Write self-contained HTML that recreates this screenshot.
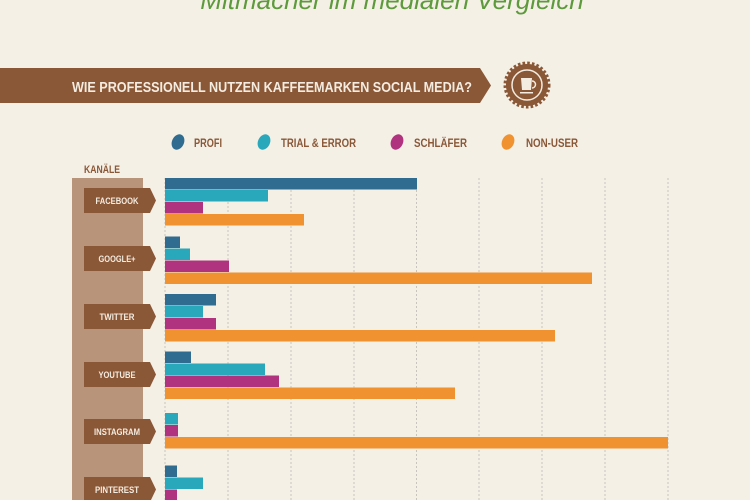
<!DOCTYPE html>
<html><head><meta charset="utf-8"><style>
html,body{margin:0;padding:0;background:#f4f0e6;width:750px;height:500px;overflow:hidden}
svg{display:block}
text{font-family:"Liberation Sans",sans-serif}
</style></head><body>
<svg width="750" height="500" viewBox="0 0 750 500">
<rect width="750" height="500" fill="#f4f0e6"/>
<text x="392" y="9" text-anchor="middle" font-size="26" font-style="italic" fill="#5d9a3c">Mitmacher im medialen Vergleich</text>
<polygon points="0,68 480,68 491,85.5 480,103 0,103" fill="#8a5737"/>
<text x="72" y="92" font-size="15" font-weight="bold" fill="#f4ece0" textLength="400" lengthAdjust="spacingAndGlyphs">WIE PROFESSIONELL NUTZEN KAFFEEMARKEN SOCIAL MEDIA?</text>
<g transform="translate(527,85)">
<circle r="21" fill="#8a5737" stroke="#8a5737" stroke-width="5" stroke-dasharray="2.5 2"/>
<circle r="21" fill="#8a5737"/>
<circle r="15" fill="none" stroke="#f4ece0" stroke-width="1.5"/>
<path d="M-6,-7 L5,-7 L4,5 L-5,5 Z" fill="#f4ece0"/>
<path d="M5,-4 a3.5,3.5 0 0 1 0,7" fill="none" stroke="#f4ece0" stroke-width="1.5"/>
<rect x="-7" y="7" width="13" height="1.5" fill="#f4ece0"/>
</g>
<g font-size="12" font-weight="bold" fill="#8a5737">
<ellipse cx="178" cy="142" rx="6" ry="8" transform="rotate(25 178 142)" fill="#2f6c8f"/><text x="194" y="147" textLength="28" lengthAdjust="spacingAndGlyphs">PROFI</text>
<ellipse cx="264" cy="142" rx="6" ry="8" transform="rotate(25 264 142)" fill="#2aa8bb"/><text x="281" y="147" textLength="75" lengthAdjust="spacingAndGlyphs">TRIAL &amp; ERROR</text>
<ellipse cx="397" cy="142" rx="6" ry="8" transform="rotate(25 397 142)" fill="#b0337f"/><text x="414" y="147" textLength="53" lengthAdjust="spacingAndGlyphs">SCHLÄFER</text>
<ellipse cx="508" cy="142" rx="6" ry="8" transform="rotate(25 508 142)" fill="#f0922f"/><text x="526" y="147" textLength="52" lengthAdjust="spacingAndGlyphs">NON-USER</text>
</g>
<text x="84" y="173" font-size="11" font-weight="bold" fill="#8a5737" textLength="36" lengthAdjust="spacingAndGlyphs">KANÄLE</text>
<rect x="72" y="178" width="71" height="322" fill="#b8947a"/>
<g stroke="#c8c4bc" stroke-width="1" stroke-dasharray="2 2">
<line x1="165" y1="178" x2="165" y2="500"/><line x1="228" y1="178" x2="228" y2="500"/><line x1="291" y1="178" x2="291" y2="500"/><line x1="354" y1="178" x2="354" y2="500"/><line x1="416.5" y1="178" x2="416.5" y2="500"/><line x1="479" y1="178" x2="479" y2="500"/><line x1="542" y1="178" x2="542" y2="500"/><line x1="605" y1="178" x2="605" y2="500"/><line x1="668" y1="178" x2="668" y2="500"/>
</g>
<g>
<rect x="165" y="178" width="252" height="11.5" fill="#2f6c8f"/><rect x="165" y="190" width="103" height="11.5" fill="#2aa8bb"/><rect x="165" y="202" width="38" height="11.5" fill="#b0337f"/><rect x="165" y="214" width="139" height="11.5" fill="#f0922f"/>
<rect x="165" y="236.5" width="15" height="11.5" fill="#2f6c8f"/><rect x="165" y="248.5" width="25" height="11.5" fill="#2aa8bb"/><rect x="165" y="260.5" width="64" height="11.5" fill="#b0337f"/><rect x="165" y="272.5" width="427" height="11.5" fill="#f0922f"/>
<rect x="165" y="294" width="51" height="11.5" fill="#2f6c8f"/><rect x="165" y="306" width="38" height="11.5" fill="#2aa8bb"/><rect x="165" y="318" width="51" height="11.5" fill="#b0337f"/><rect x="165" y="330" width="390" height="11.5" fill="#f0922f"/>
<rect x="165" y="351.5" width="26" height="11.5" fill="#2f6c8f"/><rect x="165" y="363.5" width="100" height="11.5" fill="#2aa8bb"/><rect x="165" y="375.5" width="114" height="11.5" fill="#b0337f"/><rect x="165" y="387.5" width="290" height="11.5" fill="#f0922f"/>
<rect x="165" y="413" width="13" height="11.5" fill="#2aa8bb"/><rect x="165" y="425" width="13" height="11.5" fill="#b0337f"/><rect x="165" y="437" width="503" height="11.5" fill="#f0922f"/>
<rect x="165" y="465.5" width="12" height="11.5" fill="#2f6c8f"/><rect x="165" y="477.5" width="38" height="11.5" fill="#2aa8bb"/><rect x="165" y="489.5" width="12" height="11.5" fill="#b0337f"/>
</g>
<g font-size="9" font-weight="bold" fill="#f4ece0" text-anchor="middle" lengthAdjust="spacingAndGlyphs">
<polygon points="84,188 150,188 156,200.5 150,213 84,213" fill="#8a5737"/><text x="117" y="204" textLength="43" lengthAdjust="spacingAndGlyphs">FACEBOOK</text>
<polygon points="84,246 150,246 156,258.5 150,271 84,271" fill="#8a5737"/><text x="117" y="262" textLength="37" lengthAdjust="spacingAndGlyphs">GOOGLE+</text>
<polygon points="84,304 150,304 156,316.5 150,329 84,329" fill="#8a5737"/><text x="117" y="320" textLength="35" lengthAdjust="spacingAndGlyphs">TWITTER</text>
<polygon points="84,362 150,362 156,374.5 150,387 84,387" fill="#8a5737"/><text x="117" y="378" textLength="37" lengthAdjust="spacingAndGlyphs">YOUTUBE</text>
<polygon points="84,419 150,419 156,431.5 150,444 84,444" fill="#8a5737"/><text x="117" y="435" textLength="46" lengthAdjust="spacingAndGlyphs">INSTAGRAM</text>
<polygon points="84,477 150,477 156,489.5 150,502 84,502" fill="#8a5737"/><text x="117" y="493" textLength="44" lengthAdjust="spacingAndGlyphs">PINTEREST</text>
</g>
</svg>
</body></html>
